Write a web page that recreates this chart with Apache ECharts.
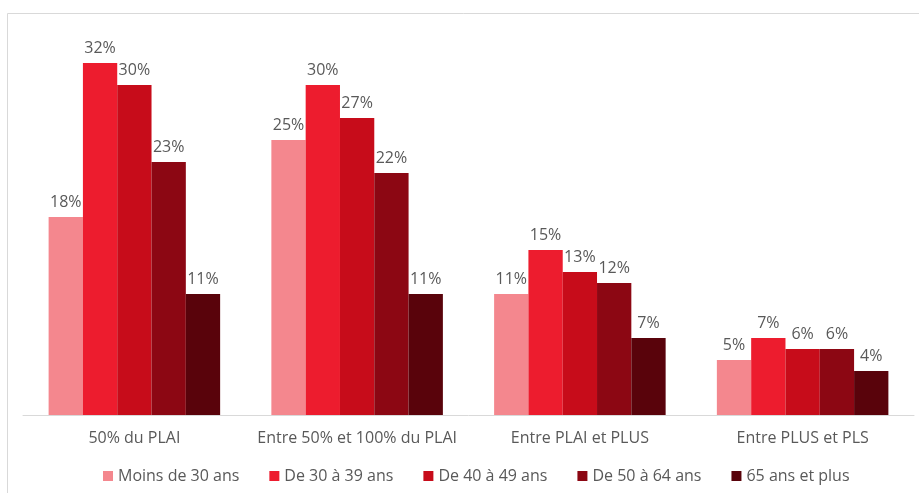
<!DOCTYPE html>
<html>
<head>
<meta charset="utf-8">
<script src="https://cdn.jsdelivr.net/npm/echarts@6/dist/echarts.min.js"></script>
<style>
  html, body { margin: 0; padding: 0; background: #ffffff; }
  #chart { width: 919px; height: 493px; }
</style>
</head>
<body>
<div id="chart"></div>
<script>
// Plafonds de ressources (catégories de l'axe)
const categories = ['50% du PLAI', 'Entre 50% et 100% du PLAI', 'Entre PLAI et PLUS', 'Entre PLUS et PLS'];

// Tranches d'âge (séries)
const seriesNames = ['Moins de 30 ans', 'De 30 à 39 ans', 'De 40 à 49 ans', 'De 50 à 64 ans', '65 ans et plus'];

// Parts en % par tranche d'âge
const moins30 = [18, 25, 11, 5];
const de30a39 = [32, 30, 15, 7];
const de40a49 = [30, 27, 13, 6];
const de50a64 = [23, 22, 12, 6];
const plus65 = [11, 11, 7, 4];

const seriesValues = [moins30, de30a39, de40a49, de50a64, plus65];
const colors = ['#F4878E', '#ED1C2E', '#C70C1A', '#8C0713', '#59030B'];

const font = '"Open Sans", "Noto Sans", sans-serif';
const textColor = '#595959';

const chart = echarts.init(document.getElementById('chart'), null, { renderer: 'canvas' });

chart.setOption({
  animation: false,
  backgroundColor: '#ffffff',
  color: colors,
  textStyle: { fontFamily: font },
  graphic: [{
    type: 'rect',
    shape: { x: 7.5, y: 13.5, width: 930, height: 500 },
    style: { fill: 'none', stroke: '#d9d9d9', lineWidth: 1 },
    silent: true,
    z: -10
  }],
  grid: { left: 23, right: 5, top: 30, bottom: 78, containLabel: false },
  legend: {
    bottom: 4,
    left: 98,
    itemWidth: 10,
    itemHeight: 10,
    itemGap: 30,
    icon: 'rect',
    textStyle: { color: textColor, fontSize: 16, fontFamily: font },
    data: seriesNames
  },
  xAxis: {
    type: 'category',
    data: categories,
    axisLine: { lineStyle: { color: '#d9d9d9', width: 1 } },
    axisTick: { show: false },
    axisLabel: { color: textColor, fontSize: 16, margin: 15, interval: 0, fontFamily: font }
  },
  yAxis: {
    type: 'value',
    min: 0,
    max: 35,
    show: false,
    splitLine: { show: false }
  },
  series: seriesNames.map((name, i) => ({
    name,
    type: 'bar',
    data: seriesValues[i],
    barGap: '0%',
    barCategoryGap: '23%',
    itemStyle: { color: colors[i] },
    label: {
      show: true,
      position: 'top',
      distance: 7,
      color: textColor,
      fontSize: 16,
      fontFamily: font,
      formatter: p => p.value + '%'
    }
  }))
});
</script>
</body>
</html>
